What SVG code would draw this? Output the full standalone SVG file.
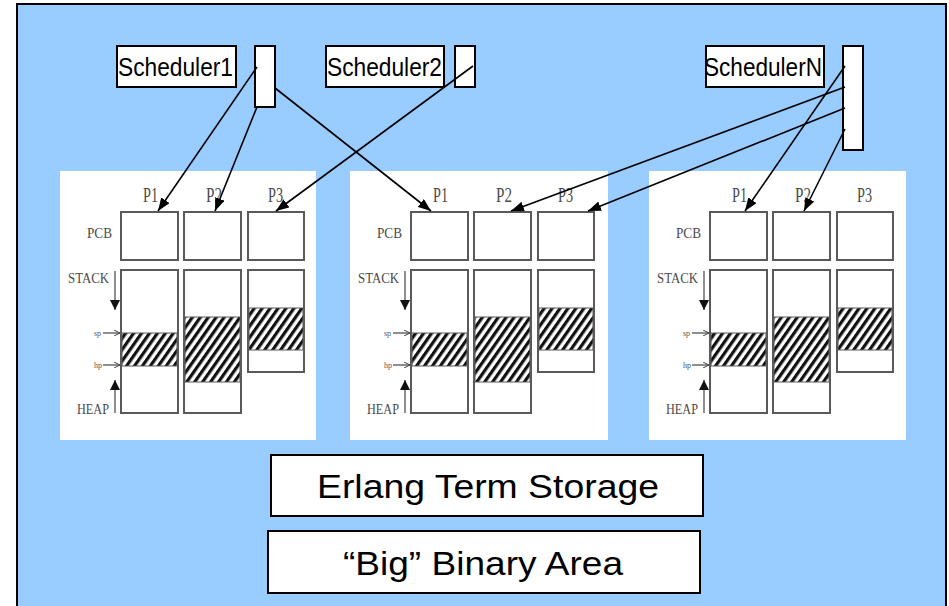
<svg xmlns="http://www.w3.org/2000/svg" width="949" height="606" viewBox="0 0 949 606">
<defs>
<pattern id="hatch" width="6.5" height="6.5" patternUnits="userSpaceOnUse" patternTransform="rotate(35)">
<rect width="6.5" height="6.5" fill="#fff"/>
<rect width="3.2" height="6.5" fill="#111"/>
</pattern>
<marker id="ah" markerUnits="userSpaceOnUse" markerWidth="14" markerHeight="10" refX="13" refY="5" orient="auto">
<path d="M0,0 L13,5 L0,10 z" fill="#000"/>
</marker>
<marker id="sa" markerUnits="userSpaceOnUse" markerWidth="7" markerHeight="6" refX="6" refY="3" orient="auto">
<path d="M0,0 L6,3 L0,6" fill="none" stroke="#444" stroke-width="1"/>
</marker>
<marker id="va" markerUnits="userSpaceOnUse" markerWidth="10" markerHeight="14" refX="10" refY="5" orient="auto">
<path d="M0,0 L10,5 L0,10 z" fill="#111"/>
</marker>
</defs>
<style>
.frame{fill:#99CCFF;stroke:#000;stroke-width:2}
.box{fill:#fff;stroke:#000;stroke-width:2}
.lbl{font-family:"Liberation Sans",Arial,sans-serif;fill:#000}
.panel{fill:#fff}
.cell{fill:#fff;stroke:#5a5a5a;stroke-width:2}
.hat{fill:url(#hatch);stroke:#5a5a5a;stroke-width:1}
.ser{font-family:"Liberation Serif","Times New Roman",serif;fill:#4a4a4a}
.tiny{font-family:"Liberation Serif","Times New Roman",serif;fill:#555}
.conn{stroke:#000;stroke-width:1.6;fill:none}
.ind{stroke:#444;stroke-width:1.2;fill:none}
</style>
<rect class="frame" x="17" y="4" width="929" height="640"/>

<g id="scheduler1">
<rect class="box" x="117" y="46" width="119" height="41"/>
<text class="lbl" x="118" y="76" font-size="25" textLength="115" lengthAdjust="spacingAndGlyphs">Scheduler1</text>
<rect class="box" x="255" y="46" width="20" height="61"/>
</g>
<g id="scheduler2">
<rect class="box" x="326" y="46" width="118" height="41"/>
<text class="lbl" x="327" y="76" font-size="25" textLength="115" lengthAdjust="spacingAndGlyphs">Scheduler2</text>
<rect class="box" x="455" y="46" width="20" height="41"/>
</g>
<g id="schedulerN">
<rect class="box" x="706" y="46" width="118" height="41"/>
<text class="lbl" x="704" y="76" font-size="25" textLength="118" lengthAdjust="spacingAndGlyphs">SchedulerN</text>
<rect class="box" x="843" y="46" width="20" height="104"/>
</g>

<g id="panel1">
<rect class="panel" x="60" y="171" width="256" height="269"/>
<text class="ser" x="143" y="202" font-size="20" textLength="15" lengthAdjust="spacingAndGlyphs">P1</text>
<text class="ser" x="206" y="202" font-size="20" textLength="16" lengthAdjust="spacingAndGlyphs">P2</text>
<text class="ser" x="268" y="202" font-size="20" textLength="15" lengthAdjust="spacingAndGlyphs">P3</text>
<text class="ser" x="87" y="238" font-size="14" textLength="25" lengthAdjust="spacingAndGlyphs">PCB</text>
<text class="ser" x="68" y="283" font-size="14" textLength="41" lengthAdjust="spacingAndGlyphs">STACK</text>
<text class="ser" x="77" y="414" font-size="14" textLength="32" lengthAdjust="spacingAndGlyphs">HEAP</text>
<text class="tiny" x="94" y="336" font-size="8">sp</text>
<text class="tiny" x="94" y="368" font-size="8">hp</text>
<rect class="cell" x="121" y="212" width="57" height="48"/>
<rect class="cell" x="184" y="212" width="57" height="48"/>
<rect class="cell" x="248" y="212" width="56" height="48"/>
<rect class="cell" x="121" y="270" width="57" height="143"/>
<rect class="cell" x="184" y="270" width="57" height="143"/>
<rect class="cell" x="248" y="270" width="56" height="102"/>
<rect class="hat" x="122" y="333" width="55" height="33"/>
<rect class="hat" x="185" y="317" width="55" height="65"/>
<rect class="hat" x="249" y="308" width="54" height="42"/>
<line class="ind" x1="115" y1="271" x2="115" y2="310" marker-end="url(#va)"/>
<line class="ind" x1="115" y1="413" x2="115" y2="380" marker-end="url(#va)"/>
<line class="ind" x1="103" y1="333" x2="120" y2="333" marker-end="url(#sa)"/>
<line class="ind" x1="103" y1="365" x2="120" y2="365" marker-end="url(#sa)"/>
</g>

<g id="panel2" transform="translate(290,0)">
<rect class="panel" x="60" y="171" width="258" height="269"/>
<text class="ser" x="143" y="202" font-size="20" textLength="15" lengthAdjust="spacingAndGlyphs">P1</text>
<text class="ser" x="206" y="202" font-size="20" textLength="16" lengthAdjust="spacingAndGlyphs">P2</text>
<text class="ser" x="268" y="202" font-size="20" textLength="15" lengthAdjust="spacingAndGlyphs">P3</text>
<text class="ser" x="87" y="238" font-size="14" textLength="25" lengthAdjust="spacingAndGlyphs">PCB</text>
<text class="ser" x="68" y="283" font-size="14" textLength="41" lengthAdjust="spacingAndGlyphs">STACK</text>
<text class="ser" x="77" y="414" font-size="14" textLength="32" lengthAdjust="spacingAndGlyphs">HEAP</text>
<text class="tiny" x="94" y="336" font-size="8">sp</text>
<text class="tiny" x="94" y="368" font-size="8">hp</text>
<rect class="cell" x="121" y="212" width="57" height="48"/>
<rect class="cell" x="184" y="212" width="57" height="48"/>
<rect class="cell" x="248" y="212" width="56" height="48"/>
<rect class="cell" x="121" y="270" width="57" height="143"/>
<rect class="cell" x="184" y="270" width="57" height="143"/>
<rect class="cell" x="248" y="270" width="56" height="102"/>
<rect class="hat" x="122" y="333" width="55" height="33"/>
<rect class="hat" x="185" y="317" width="55" height="65"/>
<rect class="hat" x="249" y="308" width="54" height="42"/>
<line class="ind" x1="115" y1="271" x2="115" y2="310" marker-end="url(#va)"/>
<line class="ind" x1="115" y1="413" x2="115" y2="380" marker-end="url(#va)"/>
<line class="ind" x1="103" y1="333" x2="120" y2="333" marker-end="url(#sa)"/>
<line class="ind" x1="103" y1="365" x2="120" y2="365" marker-end="url(#sa)"/>
</g>

<g id="panel3" transform="translate(589,0)">
<rect class="panel" x="60" y="171" width="257" height="269"/>
<text class="ser" x="143" y="202" font-size="20" textLength="15" lengthAdjust="spacingAndGlyphs">P1</text>
<text class="ser" x="206" y="202" font-size="20" textLength="16" lengthAdjust="spacingAndGlyphs">P2</text>
<text class="ser" x="268" y="202" font-size="20" textLength="15" lengthAdjust="spacingAndGlyphs">P3</text>
<text class="ser" x="87" y="238" font-size="14" textLength="25" lengthAdjust="spacingAndGlyphs">PCB</text>
<text class="ser" x="68" y="283" font-size="14" textLength="41" lengthAdjust="spacingAndGlyphs">STACK</text>
<text class="ser" x="77" y="414" font-size="14" textLength="32" lengthAdjust="spacingAndGlyphs">HEAP</text>
<text class="tiny" x="94" y="336" font-size="8">sp</text>
<text class="tiny" x="94" y="368" font-size="8">hp</text>
<rect class="cell" x="121" y="212" width="57" height="48"/>
<rect class="cell" x="184" y="212" width="57" height="48"/>
<rect class="cell" x="248" y="212" width="56" height="48"/>
<rect class="cell" x="121" y="270" width="57" height="143"/>
<rect class="cell" x="184" y="270" width="57" height="143"/>
<rect class="cell" x="248" y="270" width="56" height="102"/>
<rect class="hat" x="122" y="333" width="55" height="33"/>
<rect class="hat" x="185" y="317" width="55" height="65"/>
<rect class="hat" x="249" y="308" width="54" height="42"/>
<line class="ind" x1="115" y1="271" x2="115" y2="310" marker-end="url(#va)"/>
<line class="ind" x1="115" y1="413" x2="115" y2="380" marker-end="url(#va)"/>
<line class="ind" x1="103" y1="333" x2="120" y2="333" marker-end="url(#sa)"/>
<line class="ind" x1="103" y1="365" x2="120" y2="365" marker-end="url(#sa)"/>
</g>

<g id="ets">
<rect class="box" x="271" y="455" width="432" height="61"/>
<text class="lbl" x="317" y="498" font-size="34" textLength="342" lengthAdjust="spacingAndGlyphs">Erlang Term Storage</text>
</g>
<g id="binary">
<rect class="box" x="268" y="531" width="432" height="62"/>
<text class="lbl" x="343" y="575" font-size="33" textLength="280" lengthAdjust="spacingAndGlyphs">“Big” Binary Area</text>
</g>

<g id="connectors">
<line class="conn" x1="257" y1="67" x2="158" y2="211" marker-end="url(#ah)"/>
<line class="conn" x1="257" y1="107" x2="215" y2="211" marker-end="url(#ah)"/>
<line class="conn" x1="275" y1="88" x2="431" y2="211" marker-end="url(#ah)"/>
<line class="conn" x1="473" y1="66" x2="276" y2="211" marker-end="url(#ah)"/>
<line class="conn" x1="845" y1="66" x2="745" y2="211" marker-end="url(#ah)"/>
<line class="conn" x1="845" y1="87" x2="511" y2="211" marker-end="url(#ah)"/>
<line class="conn" x1="845" y1="108" x2="588" y2="211" marker-end="url(#ah)"/>
<line class="conn" x1="845" y1="129" x2="804" y2="211" marker-end="url(#ah)"/>
</g>
</svg>
